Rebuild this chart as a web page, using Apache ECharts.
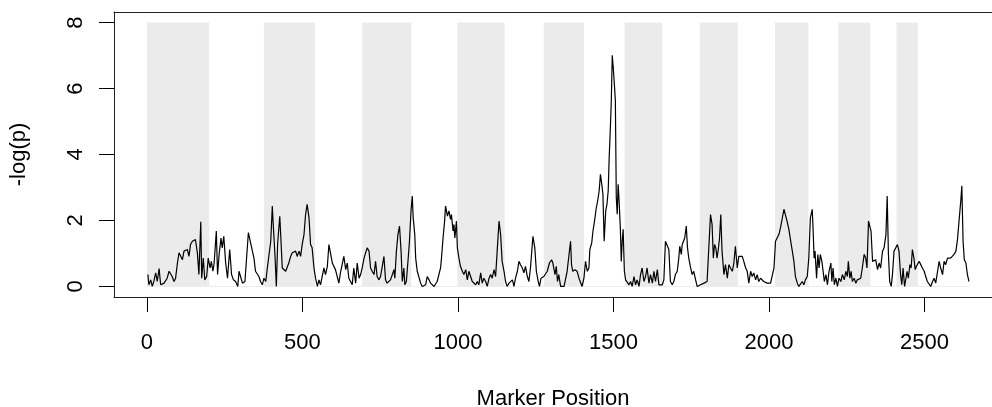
<!DOCTYPE html>
<html>
<head>
<meta charset="utf-8">
<script src="https://cdn.jsdelivr.net/npm/echarts@6/dist/echarts.min.js"></script>
<style>
  html, body { margin: 0; padding: 0; background: #fff; }
  #chart { width: 992px; height: 407px; }
</style>
</head>
<body>
<div id="chart"></div>
<script>
// Marker positions along the genome scan and their -log(p) scores
const pos = [
  3,6,12,17,22,28,33,39,44,49,55,60,65,71,76,81,87,92,98,103,108,114,119,124,130,135,140,146,151,156,162,167,173,176,181,186,192,197,203,207,212,216,223,227,232,238,242,247,253,259,266,272,278,285,292,296,301,307,315,319,326,
  339,344,349,355,360,365,371,376,382,387,392,398,403,406,412,416,420,427,431,435,440,446,451,456,462,467,473,478,483,489,494,499,505,510,515,521,526,531,537,542,548,553,558,564,569,574,580,585,590,596,601,606,612,617,622,628,633,639,644,649,655,660,665,671,676,682,687,692,698,703,708,714,719,724,730,735,740,746,751,756,762,767,772,
  778,783,789,794,797,802,807,812,817,821,826,829,834,840,844,849,853,856,861,864,869,874,880,885,891,896,901,907,912,917,923,928,933,939,944,947,952,957,960,966,971,976,979,984,987,990,995,998,1003,1008,1014,1019,1025,1030,1035,1041,1046,1051,1057,1062,1067,1073,1078,1083,1089,1094,1100,1105,1110,1116,1121,1126,1132,1137,1142,1148,1153,1158,1164,1169,1175,1180,1185,1191,1196,1201,1207,1212,1217,1223,
  1228,1233,1241,1247,1252,1258,1262,1267,1276,1287,1294,1301,1305,1312,1316,1320,1324,1330,1335,1341,1346,1351,1357,1362,1365,1369,1376,1383,1389,1394,1399,1405,1410,1416,1421,1424,1430,1434,1439,1444,1449,1454,1458,1463,1466,1470,1475,1479,1483,1486,1490,1493,1496,1499,1502,1506,1509,1512,1515,1518,1522,1525,1528,1531,1535,1539,1544,1550,1555,1560,1566,1571,1576,1582,1587,1592,1598,1603,1608,1614,1619,1625,1630,1635,1641,1646,1651,1657,1662,1667,1673,
  1678,1683,1689,1694,1699,1705,1710,1713,1718,1721,1725,1729,1734,1738,1742,1748,1753,1758,1764,1769,1774,1780,1785,1791,1796,1801,1807,1812,1817,1821,1825,1829,1833,1837,1841,1845,1849,1855,1860,1866,1871,1876,1882,1887,1892,1898,1903,1908,1914,1919,1925,1930,1935,1941,1946,1951,1957,1962,1967,1973,1978,1983,1989,1994,2000,2005,2010,2016,2021,2026,2032,2037,2042,2048,2053,2058,2064,2069,2075,2080,2085,2091,2096,2101,2107,2112,2117,2123,2128,2133,2139,
  2142,2145,2148,2153,2157,2161,2165,2170,2174,2178,2183,2188,2193,2199,2202,2206,2210,2215,2220,2225,2231,2236,2242,2247,2252,2255,2260,2264,2268,2274,2279,2284,2290,2295,2300,2306,2311,2315,2320,2324,2328,2333,2338,2343,2349,2354,2359,2365,2370,2376,2380,2384,2388,2393,2397,2402,2408,2413,2418,2423,2427,2431,2436,2440,2444,2448,2453,2457,2461,2466,2470,2474,2478,2483,2488,2493,2499,2504,2509,2515,2520,2526,2531,2536,2542,2547,2552,2558,2563,2568,2574,2579,2584,2590,2595,2601,2606,2611,2617,2620,2624,2628,2633,2638,2643
];
const logp = [
  0.36,0.05,0.2,0.0,0.15,0.41,0.15,0.54,0.05,0.0,0.1,0.05,0.25,0.46,0.51,0.3,0.15,0.25,0.71,1.02,0.97,0.81,1.07,1.02,1.12,0.91,1.27,1.37,1.32,1.42,1.02,0.36,1.96,0.25,0.86,0.2,0.3,0.86,0.56,0.76,0.46,0.71,1.68,0.36,0.97,1.47,1.17,1.52,0.71,0.25,1.12,0.36,0.2,0.15,0.0,0.46,0.51,0.1,0.15,0.2,1.63,
  1.07,0.86,0.46,0.41,0.30,0.15,0.05,0.25,0.15,0.56,0.61,1.37,2.44,1.88,0.86,0.0,1.27,2.13,1.37,0.56,0.51,0.46,0.41,0.71,0.91,1.02,1.02,1.07,0.91,1.07,0.91,1.27,1.58,2.18,2.49,2.08,1.27,1.17,0.56,0.25,0.0,0.2,0.05,0.1,0.56,0.36,0.61,1.27,1.02,0.71,0.71,0.51,0.46,0.1,0.41,0.46,0.91,0.51,0.71,0.25,0.30,0.05,0.56,0.1,0.71,0.25,0.36,0.56,0.86,1.02,1.17,1.07,0.56,0.46,0.36,0.76,0.30,0.2,0.30,0.36,0.91,0.2,0.1,
  0.15,0.2,0.36,0.51,0.25,1.07,1.58,1.83,1.07,0.15,0.56,0.05,0.15,0.86,1.37,2.29,2.74,2.08,1.58,0.86,0.46,0.46,0.1,0.0,0.05,0.05,0.3,0.2,0.1,0.05,0.0,0.05,0.15,0.2,0.56,0.86,1.47,1.98,2.44,2.13,2.29,2.03,2.18,1.68,1.88,1.47,1.98,1.17,0.86,0.61,0.46,0.36,0.51,0.2,0.46,0.41,0.15,0.2,0.05,0.15,0.05,0.41,0.1,0.25,0.15,0.0,0.25,0.36,0.25,0.51,0.3,1.07,1.98,1.58,0.76,0.46,0.15,0.0,0.1,0.15,0.2,0.0,0.25,0.46,0.76,0.66,0.56,0.41,0.61,0.3,
  0.15,0.56,1.52,1.17,0.46,0.15,0.0,0.25,0.3,0.46,0.71,0.81,0.71,0.36,0.61,0.15,0.36,0.0,0.05,0.0,0.0,0.46,0.97,1.37,0.66,0.46,0.51,0.46,0.25,0.2,0.0,0.25,0.76,0.46,0.56,1.12,1.32,1.68,1.98,2.34,2.59,2.9,3.4,3.05,2.8,1.37,2.29,2.49,2.9,3.86,4.83,5.64,7.01,6.66,6.25,5.64,2.69,2.19,3.1,2.59,1.78,0.76,1.37,1.73,0.46,0.2,0.15,0.05,0.15,0.0,0.3,0.05,0.2,0.0,0.36,0.56,0.15,0.3,0.56,0.1,0.36,0.1,0.46,0.15,0.51,0.05,0.05,0.05,0.2,1.37,1.32,
  1.12,0.15,0.05,0.15,0.36,0.46,0.86,1.22,0.97,1.27,1.37,1.47,1.83,1.17,0.86,0.56,0.36,0.46,0.2,0.0,0.0,0.05,0.05,0.1,0.05,0.15,1.27,2.18,1.88,0.86,1.27,1.17,0.86,1.12,1.47,2.18,1.07,0.36,0.66,0.25,0.66,0.56,0.46,0.71,1.22,0.56,0.91,0.97,0.91,0.76,0.56,0.46,0.1,0.46,0.3,0.41,0.2,0.36,0.15,0.25,0.2,0.15,0.1,0.1,0.1,0.1,0.1,0.56,1.37,1.42,1.58,1.78,2.03,2.34,2.29,1.98,1.73,1.42,1.07,0.76,0.3,0.1,0.0,0.05,0.15,0.05,0.2,0.3,0.86,2.08,2.34,
  1.68,0.86,1.07,0.25,0.97,0.56,0.97,0.76,0.46,0.15,0.36,0.05,0.46,0.71,0.15,0.56,0.05,0.25,0.0,0.25,0.15,0.36,0.2,0.46,0.3,0.76,0.25,0.46,0.15,0.25,0.1,0.2,0.15,0.25,0.56,0.97,0.86,0.56,1.98,1.93,1.68,0.76,0.71,0.81,0.51,0.71,0.56,1.07,1.17,1.57,2.74,0.97,0.15,0.0,0.36,1.07,1.12,1.27,1.07,0.36,0.05,0.56,0.0,0.0,0.46,0.25,0.66,0.56,1.12,0.86,0.51,0.61,0.56,0.76,0.71,0.56,0.46,0.3,0.15,0.1,0.0,0.15,0.25,0.1,0.46,0.76,0.56,0.36,0.76,0.66,0.86,0.81,0.86,0.91,0.97,1.07,1.42,1.98,2.64,3.05,1.37,0.81,0.71,0.36,0.15
];

// Chromosome blocks shaded in alternating grey
const bandStart = [0, 376, 692, 998, 1276, 1536, 1777, 2019, 2223, 2410];
const bandEnd   = [200, 540, 850, 1150, 1405, 1657, 1900, 2127, 2326, 2479];
const bandTop = 8;

const xTicks = [0, 500, 1000, 1500, 2000, 2500];
const yTicks = [0, 2, 4, 6, 8];

const lineData = pos.map((p, i) => [p, logp[i]]);
const bands = bandStart.map((s, i) => [
  { xAxis: s, yAxis: 0 },
  { xAxis: bandEnd[i], yAxis: bandTop }
]);

const font = '"Liberation Sans", Arial, sans-serif';
const frame = { show: true, onZero: false, lineStyle: { color: '#222', width: 1 } };
const chart = echarts.init(document.getElementById('chart'), null, { renderer: 'canvas' });

chart.setOption({
  animation: false,
  backgroundColor: '#ffffff',
  grid: { left: 114, top: 12, width: 878, height: 285, show: false, outerBoundsMode: 'none', containLabel: false },
  xAxis: [
    {
      type: 'value',
      min: -106, max: 2717,
      name: 'Marker Position',
      nameLocation: 'middle',
      nameGap: 91,
      nameTextStyle: { color: '#000', fontSize: 22, fontFamily: font },
      axisLine: frame,
      splitLine: { show: false },
      axisTick: { show: true, length: 15, lineStyle: { color: '#000', width: 1 }, customValues: xTicks },
      axisLabel: { color: '#000', fontSize: 22, fontFamily: font, margin: 35, customValues: xTicks,
        formatter: v => String(v) }
    },
    {
      // top edge of the plot frame
      type: 'value', position: 'top',
      min: -106, max: 2717,
      axisLine: frame,
      axisTick: { show: false }, axisLabel: { show: false }, splitLine: { show: false }
    }
  ],
  yAxis: {
    type: 'value',
    min: -0.32, max: 8.32,
    name: '-log(p)',
    nameLocation: 'middle',
    nameGap: 84,
    nameRotate: 90,
    nameTextStyle: { color: '#000', fontSize: 22, fontFamily: font },
    axisLine: frame,
    splitLine: { show: false },
    axisTick: { show: true, length: 15, lineStyle: { color: '#000', width: 1 }, customValues: yTicks },
    axisLabel: { color: '#000', fontSize: 22, fontFamily: font, margin: 27, rotate: 90, customValues: yTicks,
      formatter: v => String(v) }
  },
  series: [
    {
      type: 'line',
      z: 1,
      data: [[0, 0], [pos[pos.length - 1], 0]],
      showSymbol: false,
      silent: true,
      lineStyle: { color: '#ececec', width: 1 },
      markArea: {
        silent: true,
        itemStyle: { color: '#ebebeb' },
        data: bands
      }
    },
    {
      type: 'line',
      z: 3,
      data: lineData,
      showSymbol: false,
      lineStyle: { color: '#000', width: 1.2 }
    }
  ]
});
</script>
</body>
</html>
